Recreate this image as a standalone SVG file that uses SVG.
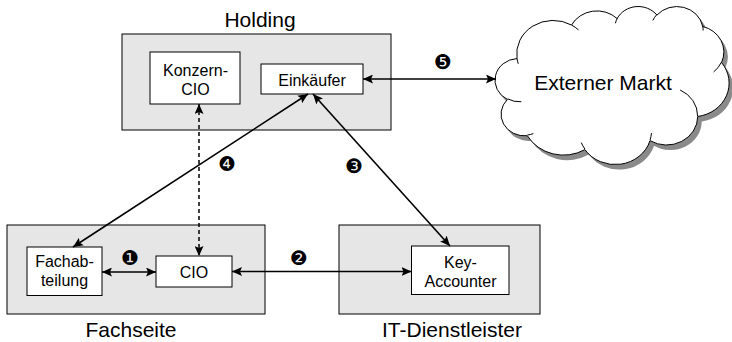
<svg xmlns="http://www.w3.org/2000/svg" width="732" height="342" viewBox="0 0 732 342">
  <style>
    .group { fill: #e6e6e6; stroke: #000; stroke-width: 1; }
    .box { fill: #fff; stroke: #000; stroke-width: 1; }
    .label { font-family: "Liberation Sans", Arial, sans-serif; font-size: 21px; fill: #000; text-anchor: middle; }
    .txt { font-family: "Liberation Sans", Arial, sans-serif; font-size: 16px; fill: #000; text-anchor: middle; }
    .num { font-family: "DejaVu Sans", sans-serif; font-size: 20px; fill: #000; text-anchor: middle; }
    .link { fill: none; stroke: #000; stroke-width: 1.6; marker-start: url(#head); marker-end: url(#head); }
    .dashed { stroke-dasharray: 4 3; stroke-width: 1.5; }
    .cloud { fill: #fff; stroke: #000; stroke-width: 1; }
    .cloud-inner { fill: none; stroke: #000; stroke-width: 1; }
  </style>
  <defs>
    <marker id="head" viewBox="0 0 10 9" refX="10" refY="4.5" markerWidth="10" markerHeight="9" markerUnits="userSpaceOnUse" orient="auto-start-reverse">
      <path d="M0,0 L10,4.5 L0,9 L2,4.5 Z" fill="#000"/>
    </marker>
    <path id="cloud-outline" d="M517.03,58.56 A36.42,33.61 0 0 1 571.54,25.03 A28.76,26.58 0 0 1 617.13,18.56 A23.54,21.74 0 0 1 656.91,15.08 A26.20,24.12 0 0 1 702.68,26.40 A28.76,26.60 0 0 1 721.56,62.55 A36.54,33.72 0 0 1 697.75,116.47 A31.20,28.77 0 0 1 650.03,140.65 A36.42,33.70 0 0 1 584.90,149.62 A41.64,38.56 0 0 1 527.32,135.74 A23.52,21.64 0 0 1 507.41,99.45 A23.43,21.74 0 0 1 517.03,58.56 Z"/>
  </defs>

  <!-- Holding -->
  <g id="holding">
    <rect class="group" x="122" y="34" width="269" height="96"/>
    <text class="label" x="260" y="27">Holding</text>
  </g>
  <g id="konzern-cio">
    <rect class="box" x="150" y="52" width="90" height="52"/>
    <text class="txt" x="195.5" y="76">Konzern-</text>
    <text class="txt" x="195.5" y="95">CIO</text>
  </g>
  <g id="einkaeufer">
    <rect class="box" x="261" y="64" width="102" height="30"/>
    <text class="txt" x="312" y="86">Einkäufer</text>
  </g>

  <!-- Fachseite -->
  <g id="fachseite">
    <rect class="group" x="7" y="225" width="258" height="89"/>
    <text class="label" x="131" y="337">Fachseite</text>
  </g>
  <g id="fachabteilung">
    <rect class="box" x="27" y="247" width="75" height="48.5"/>
    <text class="txt" x="64.5" y="267">Fachab-</text>
    <text class="txt" x="64.5" y="286">teilung</text>
  </g>
  <g id="cio">
    <rect class="box" x="156" y="256" width="76" height="31"/>
    <text class="txt" x="194" y="278">CIO</text>
  </g>

  <!-- IT-Dienstleister -->
  <g id="it-dienstleister">
    <rect class="group" x="339" y="225" width="201" height="89"/>
    <text class="label" x="452" y="337">IT-Dienstleister</text>
  </g>
  <g id="key-accounter">
    <rect class="box" x="411.5" y="246" width="97.5" height="48.5"/>
    <text class="txt" x="460.5" y="268">Key-</text>
    <text class="txt" x="460.5" y="287">Accounter</text>
  </g>

  <!-- Externer Markt -->
  <g id="externer-markt">
    <use href="#cloud-outline" transform="translate(4,5)" fill="#8a8a8a"/>
    <use href="#cloud-outline" class="cloud"/>
    <path class="cloud-inner" d="M521.31,101.74 A23.43,21.74 0 0 1 507.65,98.82 M533.37,133.64 A23.52,21.64 0 0 1 527.38,135.03 M584.87,148.97 A36.42,33.70 0 0 1 581.27,142.60 M651.48,133.10 A36.42,33.70 0 0 1 650.04,140.08 M680.08,89.95 A31.20,28.77 0 0 1 697.61,116.05 M721.44,62.16 A28.76,26.60 0 0 1 713.63,71.94 M702.70,25.85 A26.20,24.12 0 0 1 703.11,30.47 M652.83,20.45 A26.20,24.12 0 0 1 656.83,14.56 M615.42,23.26 A23.54,21.74 0 0 1 617.36,18.18 M571.51,24.99 A36.42,33.61 0 0 1 578.52,29.93 M518.26,63.75 A36.42,33.61 0 0 1 517.04,58.56"/>
    <text class="label" x="603" y="90">Externer Markt</text>
  </g>

  <!-- Connectors -->
  <g id="connectors">
    <line class="link" x1="102" y1="272" x2="156" y2="272"/>
    <line class="link" x1="232" y1="271.5" x2="411.5" y2="271.5"/>
    <line class="link" x1="313" y1="94" x2="450" y2="246"/>
    <line class="link" x1="308" y1="94" x2="73" y2="247"/>
    <line class="link" x1="363" y1="79" x2="496" y2="79"/>
    <line class="link dashed" x1="199" y1="104" x2="199" y2="256"/>
    <text class="num" x="130" y="265">❶</text>
    <text class="num" x="299" y="265">❷</text>
    <text class="num" x="354" y="173">❸</text>
    <text class="num" x="227" y="171">❹</text>
    <text class="num" x="443" y="69">❺</text>
  </g>
</svg>
